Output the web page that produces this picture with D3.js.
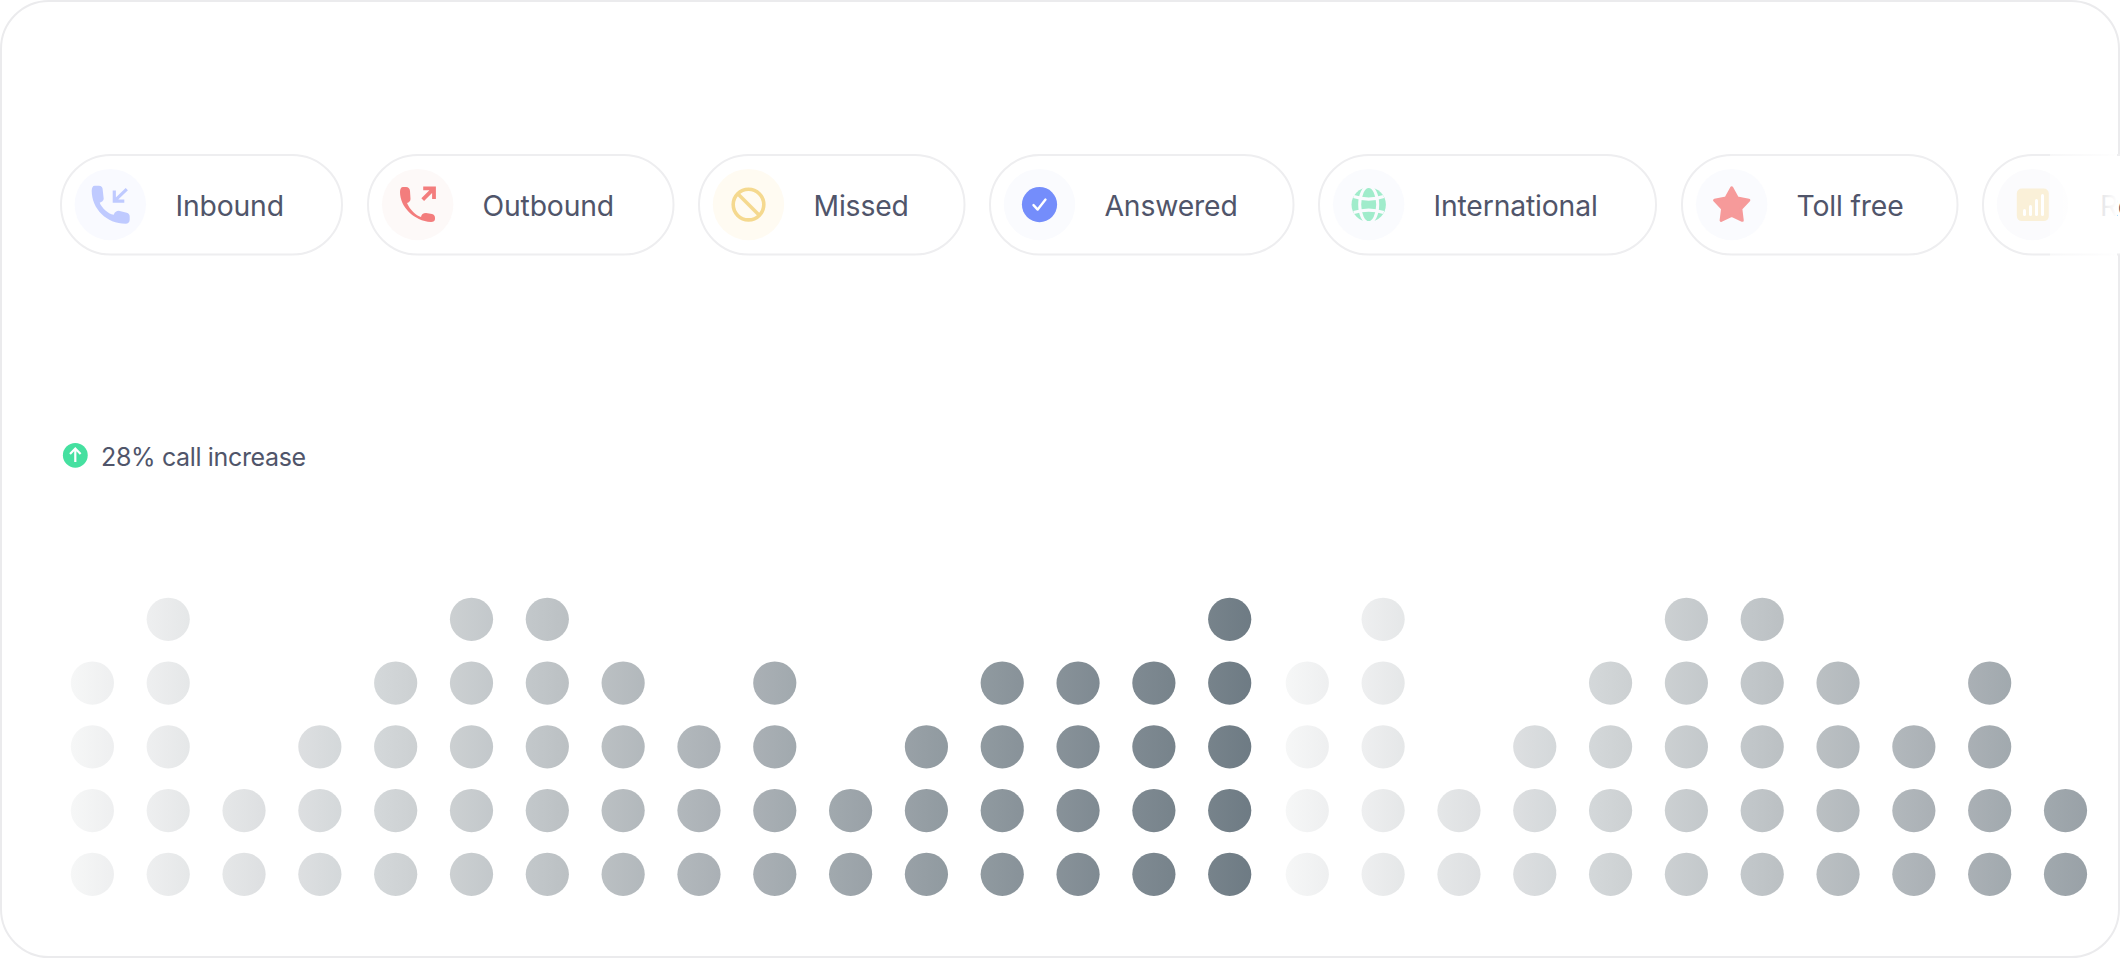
<!DOCTYPE html>
<html><head><meta charset="utf-8">
<script src="https://cdn.jsdelivr.net/npm/d3@7/dist/d3.min.js"></script>
<style>html,body{margin:0;padding:0;background:#fff;overflow:hidden}svg{display:block}text{font-family:Inter,"Open Sans",sans-serif}</style>
</head><body><div id="c"></div>
<script>
const W=2120,H=958;
// pills
const pillLabels=["Inbound","Outbound","Missed","Answered","International","Toll free","Reports"];
const pillIcons=["in","out","missed","answered","globe","star","reports"];
const pillLeft=[61,368,699,990,1319,1682,1983];
const pillRight=[342,673.5,964.5,1293.5,1656,1957.5,2300];
const iconCx=[110.3,417.7,748.5,1039.5,1368.7,1731.7,2032.5];
const iconBg=["#f9faff","#fdf9f8","#fffbf2","#fafbfe","#fafbfe","#fafbfe","#fbfbfd"];
const labelX=[175.5,482.5,813.5,1104.5,1433.5,1796.5,2100];
// dot columns: number of stacked dots per week, two consecutive periods
const firstPeriod=[4,5,2,3,4,5,5,4,3,4,2,3,4,4,4,5];
const secondPeriod=[4,5,2,3,4,5,5,4,3,4,2];
const headline="28% call increase";

const svg=d3.select("#c").append("svg").attr("width",W).attr("height",H).attr("viewBox",`0 0 ${W} ${H}`);
const defs=svg.append("defs");

// layout scales
const xA=d3.scaleLinear().domain([0,15]).range([92.4,1229.7]);
const xB=d3.scaleLinear().domain([0,10]).range([1307.3,2065.5]);
const y=d3.scaleLinear().domain([1,5]).range([874.3,619.3]);
const ramp=d3.scaleLinear().domain([-0.5,7.5,15.5]).range(["#f6f7f7","#b2b8bc","#6e7b84"]);
const R=21.6;

svg.append("rect").attr("x",1).attr("y",1).attr("width",W-2).attr("height",H-2).attr("rx",48)
  .attr("fill","#fff").attr("stroke","#ebebed").attr("stroke-width",2);

// pills
const pillY=155,pillH=99.5,cy=204.6;
const pills=svg.append("g").selectAll("g").data(pillLabels).join("g");
pills.append("rect").attr("x",(d,i)=>pillLeft[i]).attr("y",pillY)
  .attr("width",(d,i)=>pillRight[i]-pillLeft[i]).attr("height",pillH).attr("rx",pillH/2)
  .attr("fill","#fff").attr("stroke","#eeeef0").attr("stroke-width",2);
pills.append("circle").attr("cx",(d,i)=>iconCx[i]).attr("cy",cy).attr("r",35.7).attr("fill",(d,i)=>iconBg[i]);
pills.append("text").attr("x",(d,i)=>labelX[i]).attr("y",cy+11.5).attr("font-size",28.3).attr("letter-spacing",-0.15)
  .attr("fill","#50556a").text(d=>d);

const phoneFat="M3,0H7C10,0 11,2 11,4L12,13C12,15 10,16 8,17C10,22 16,28 22,29C23,26 25,25 27,25L35,27C37,27.5 38,29 38,31V34C38,36.5 36,38 34,38C15,38 0,23 0,5C0,2 1,0 3,0Z";
const phoneThin="M3,0H6C8.5,0 10,2 10,4L10.5,12C10.5,14 9,15.5 7,16C10,23 16,28.5 21,30C21.5,27.5 23,26 26,26L32,27C34,27.5 35,29 35,31V32C35,34 33.5,35 31,35C14,34 0,20 0,5C0,2 1,0 3,0Z";
pills.each(function(kind,i){
  const g=d3.select(this).append("g").attr("transform",`translate(${iconCx[i]},${cy})`);
  const k=pillIcons[i];
  if(k==="in"){
    g.append("path").attr("d",phoneFat).attr("transform","translate(-18.6,-18.9)").attr("fill","#bfcaff");
    g.append("path").attr("d","M16.5,-15.5L4.5,-4M4,-14V-3.5H14").attr("fill","none").attr("stroke","#bfcaff").attr("stroke-width",3.2);
  }else if(k==="out"){
    g.append("path").attr("d",phoneThin).attr("transform","translate(-17.7,-17.6)").attr("fill","#f37d7d");
    g.append("path").attr("d","M5,-5L15.5,-15.5M5.5,-16.3H16.3V-5.5").attr("fill","none").attr("stroke","#f37d7d").attr("stroke-width",3.8);
  }else if(k==="missed"){
    g.append("circle").attr("r",15.3).attr("fill","none").attr("stroke","#f5d98f").attr("stroke-width",3.6);
    g.append("path").attr("d","M-10.5,-10.5L10.5,10.5").attr("stroke","#f5d98f").attr("stroke-width",3.6);
  }else if(k==="answered"){
    g.append("circle").attr("r",17.6).attr("fill","#748dfb");
    g.append("path").attr("d","M-6,0.5L-1.8,5L6,-5").attr("fill","none").attr("stroke","#fff").attr("stroke-width",2.4).attr("stroke-linecap","round").attr("stroke-linejoin","round");
  }else if(k==="globe"){
    g.append("circle").attr("r",17.2).attr("fill","#a0eccb");
    g.append("ellipse").attr("rx",9).attr("ry",18).attr("fill","none").attr("stroke","#fafbfe").attr("stroke-width",3);
    g.append("path").attr("d","M-15,-8Q0,-3 15,-8M-15,8Q0,3 15,8").attr("fill","none").attr("stroke","#fafbfe").attr("stroke-width",3.2);
  }else if(k==="star"){
    g.append("path").attr("d",d3.lineRadial().curve(d3.curveLinearClosed)(d3.range(10).map(j=>[j*Math.PI/5,j%2?9.6:18])))
      .attr("transform","translate(0,1.2)").attr("fill","#f69a9a").attr("stroke","#f69a9a").attr("stroke-width",3).attr("stroke-linejoin","round");
  }else{
    g.append("rect").attr("x",-15.7).attr("y",-16).attr("width",32).attr("height",32.5).attr("rx",5).attr("fill","#faf0d8");
    g.selectAll("path").data([[-8,10,4],[-2,10,8],[4,10,14],[10,10,19]]).join("path")
      .attr("d",d=>`M${d[0]},${d[1]}V${d[1]-d[2]}`).attr("stroke","#fff").attr("stroke-width",3).attr("stroke-linecap","round");
  }
});

// right fade
const fade=defs.append("linearGradient").attr("id","fade");
fade.append("stop").attr("offset",0).attr("stop-color","#fff").attr("stop-opacity",0.55);
fade.append("stop").attr("offset",0.8).attr("stop-color","#fff").attr("stop-opacity",0.87);
fade.append("stop").attr("offset",1).attr("stop-color","#fff").attr("stop-opacity",1);
svg.append("rect").attr("x",2050).attr("y",150).attr("width",67).attr("height",110).attr("fill","url(#fade)");

// headline
svg.append("circle").attr("cx",75.3).attr("cy",455.3).attr("r",12.4).attr("fill","#45e0a0");
svg.append("path").attr("d","M75.3,462V449M70,454L75.3,448.6L80.6,454").attr("fill","none").attr("stroke","#fff").attr("stroke-width",2.2);
svg.append("text").attr("x",101).attr("y",465.5).attr("font-size",25).attr("letter-spacing",-0.35).attr("fill","#50556a").text(headline);

// dots
function drawPeriod(values,x,name){
  values.forEach((n,i)=>{
    const g=defs.append("linearGradient").attr("id",`${name}${i}`);
    g.append("stop").attr("offset",0).attr("stop-color",ramp(i-0.5));
    g.append("stop").attr("offset",1).attr("stop-color",ramp(i+0.5));
  });
  svg.append("g").selectAll("g").data(values).join("g")
    .each(function(n,i){
      d3.select(this).selectAll("circle").data(d3.range(1,n+1)).join("circle")
        .attr("cx",x(i)).attr("cy",d=>y(d)).attr("r",R).attr("fill",`url(#${name}${i})`);
    });
}
drawPeriod(firstPeriod,xA,"a");
drawPeriod(secondPeriod,xB,"b");
</script></body></html>
